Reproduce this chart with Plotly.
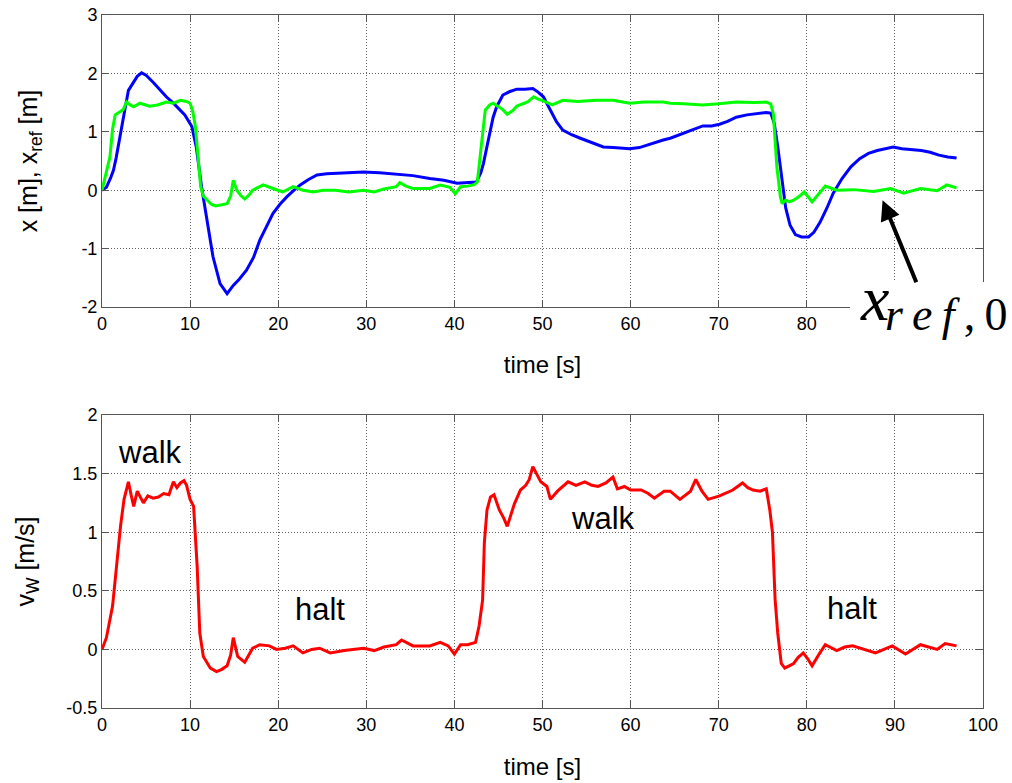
import plotly.graph_objects as go
from plotly.subplots import make_subplots

# ---------------- data ----------------
t_x = [0, 0.5, 1.0, 1.3, 1.6, 2.0, 2.5, 3.0, 3.6, 4.0, 4.5, 5.0, 5.8, 6.6, 7.3, 8.1, 8.8, 9.4, 10.2, 10.7,
       11.3, 11.9, 12.6, 13.4, 14.2, 14.9, 15.6, 16.4, 17.2, 17.9, 18.7, 19.4, 20.2, 21.0, 21.8, 22.5, 23.4,
       24.4, 25.5, 26.6, 28.0, 29.7, 31.5, 33.4, 35.3, 37.2, 38.8, 40.3, 41.5, 42.5, 43.0, 43.3, 43.7, 44.0,
       44.4, 44.8, 45.5, 46.3, 47.1, 48.0, 48.9, 49.5, 50.1, 50.9, 51.6, 52.3, 53.3, 54.3, 55.5, 56.9, 58.0,
       59.0, 59.9, 61.0, 62.0, 63.7, 64.5, 65.5, 66.5, 67.5, 68.2, 69.2, 70.1, 71.0, 72.0, 73.2, 74.3, 75.4,
       75.9, 76.3, 76.7, 77.1, 77.6, 78.1, 78.7, 79.4, 80.2, 80.8, 81.5, 82.3, 83.0, 84.0, 85.0, 86.0, 87.0,
       88.0, 89.0, 89.8, 90.8, 92.0, 93.0, 94.0, 95.0, 96.0, 97.0]
x_pos = [0.0, 0.05, 0.22, 0.34, 0.55, 0.86, 1.3, 1.71, 1.86, 1.95, 2.01, 1.97, 1.85, 1.71, 1.6, 1.49, 1.38,
         1.29, 1.09, 0.74, 0.06, -0.46, -1.14, -1.6, -1.77, -1.63, -1.52, -1.37, -1.15, -0.86, -0.6, -0.4,
         -0.24, -0.11, 0.0, 0.09, 0.18, 0.26, 0.28, 0.29, 0.3, 0.31, 0.3, 0.27, 0.25, 0.2, 0.17, 0.12, 0.13,
         0.14, 0.3, 0.46, 0.75, 0.97, 1.25, 1.43, 1.63, 1.69, 1.73, 1.73, 1.74, 1.68, 1.6, 1.37, 1.17, 1.03,
         0.95, 0.89, 0.82, 0.74, 0.73, 0.72, 0.71, 0.73, 0.78, 0.86, 0.89, 0.95, 1.0, 1.06, 1.1, 1.1, 1.13,
         1.18, 1.25, 1.29, 1.31, 1.33, 1.32, 1.15, 0.75, 0.25, -0.3, -0.6, -0.76, -0.8, -0.8, -0.72, -0.55,
         -0.3, -0.05, 0.2, 0.4, 0.54, 0.63, 0.68, 0.71, 0.74, 0.71, 0.69, 0.68, 0.65, 0.6, 0.57, 0.55]

t_ref = [0, 0.4, 0.9, 1.2, 1.5, 2.0, 2.4, 2.8, 3.2, 3.6, 4.3, 5.4, 6.3, 7.3, 8.1, 8.9, 9.6, 10.0, 10.3, 10.6,
         10.9, 11.2, 11.5, 11.9, 12.4, 12.9, 13.6, 14.2, 14.6, 14.9, 15.3, 15.8, 16.2, 16.7, 17.1, 18.3, 19.4,
         20.5, 21.7, 22.8, 24.0, 25.1, 26.5, 28.0, 29.7, 30.9, 32.0, 33.4, 33.8, 34.5, 35.3, 37.2, 38.4, 39.5,
         40.1, 40.7, 41.5, 42.2, 42.6, 43.1, 43.5, 44.0, 44.4, 45.0, 45.5, 46.0, 46.6, 47.1, 47.7, 48.3, 49.0,
         49.5, 50.1, 51.1, 52.3, 54.0, 56.1, 58.0, 59.9, 61.5, 63.7, 64.5, 66.0, 68.2, 70.0, 72.0, 74.0, 75.4,
         75.9, 76.2, 76.6, 77.0, 77.2, 77.6, 78.0, 78.5, 79.2, 79.7, 80.2, 80.6, 81.2, 82.1, 83.4, 85.3, 87.6,
         89.5, 91.0, 92.9, 94.8, 95.9, 97.0]
x_ref = [0.0, 0.25, 0.57, 1.05, 1.29, 1.34, 1.38, 1.51, 1.46, 1.43, 1.49, 1.44, 1.46, 1.51, 1.49, 1.54, 1.52,
         1.49, 1.35, 1.09, 0.51, 0.06, -0.1, -0.17, -0.24, -0.27, -0.25, -0.23, -0.1, 0.17, 0.0, -0.1, -0.15,
         -0.08, 0.0, 0.09, 0.03, -0.03, 0.06, 0.0, -0.03, 0.0, 0.0, -0.03, 0.0, -0.03, 0.02, 0.06, 0.13, 0.07,
         0.03, 0.03, 0.09, 0.05, -0.06, 0.06, 0.07, 0.09, 0.14, 0.8, 1.37, 1.46, 1.49, 1.43, 1.38, 1.3, 1.36,
         1.44, 1.47, 1.51, 1.6, 1.56, 1.53, 1.46, 1.54, 1.52, 1.54, 1.54, 1.49, 1.51, 1.51, 1.49, 1.48, 1.46,
         1.48, 1.51, 1.5, 1.51, 1.48, 1.31, 0.4, -0.11, -0.23, -0.17, -0.2, -0.17, -0.1, -0.03, -0.12, -0.2,
         -0.09, 0.07, 0.0, 0.01, -0.02, 0.03, -0.05, 0.03, -0.01, 0.09, 0.04]

t_v = [0, 0.5, 1.2, 1.7, 2.1, 2.5, 3.0, 3.3, 3.6, 4.0, 4.7, 5.2, 5.8, 6.4, 7.0, 7.6, 8.1, 8.5, 8.9, 9.3, 9.6,
       10.0, 10.4, 10.8, 11.1, 11.5, 12.3, 13.0, 13.6, 14.2, 14.6, 14.9, 15.4, 16.2, 17.1, 17.9, 19.0, 19.8,
       20.8, 21.7, 22.8, 23.8, 24.7, 25.9, 27.5, 29.7, 30.9, 32.0, 33.4, 34.0, 35.3, 37.2, 38.4, 39.3, 40.0,
       40.7, 41.5, 42.4, 42.8, 43.2, 43.4, 43.7, 44.1, 44.5, 45.1, 45.6, 46.0, 46.8, 47.5, 48.1, 48.5, 48.9,
       49.3, 49.8, 50.5, 50.9, 51.7, 52.9, 53.8, 54.8, 55.6, 56.3, 57.2, 58.0, 58.5, 59.3, 60.0, 61.2, 62.0,
       62.7, 63.8, 64.5, 65.6, 66.8, 67.4, 68.1, 68.8, 70.1, 71.6, 72.7, 73.3, 73.9, 74.7, 75.4, 75.8, 76.1,
       76.4, 76.7, 77.1, 77.5, 78.0, 78.5, 79.0, 79.6, 80.1, 80.6, 81.4, 82.1, 83.4, 84.3, 85.2, 86.5, 87.8,
       89.7, 91.2, 92.9, 94.8, 95.7, 97.0]
v_w = [0.0, 0.1, 0.37, 0.75, 1.05, 1.28, 1.43, 1.32, 1.22, 1.35, 1.25, 1.31, 1.29, 1.3, 1.33, 1.32, 1.43,
       1.38, 1.42, 1.44, 1.4, 1.28, 1.22, 0.71, 0.14, -0.06, -0.16, -0.19, -0.17, -0.14, -0.05, 0.1, -0.06,
       -0.11, 0.01, 0.04, 0.03, 0.0, 0.01, 0.03, -0.03, 0.0, 0.01, -0.03, -0.01, 0.01, -0.01, 0.02, 0.04,
       0.08, 0.03, 0.03, 0.06, 0.03, -0.04, 0.04, 0.04, 0.06, 0.2, 0.42, 0.91, 1.19, 1.3, 1.32, 1.19, 1.12,
       1.05, 1.24, 1.36, 1.4, 1.45, 1.56, 1.5, 1.43, 1.39, 1.28, 1.35, 1.43, 1.4, 1.43, 1.4, 1.39, 1.42, 1.47,
       1.37, 1.39, 1.36, 1.36, 1.33, 1.29, 1.35, 1.35, 1.28, 1.35, 1.45, 1.35, 1.28, 1.31, 1.36, 1.42, 1.38,
       1.36, 1.35, 1.37, 1.19, 1.0, 0.43, 0.14, -0.12, -0.16, -0.14, -0.12, -0.07, -0.03, -0.08, -0.14,
       -0.04, 0.04, -0.01, 0.02, 0.03, 0.0, -0.03, 0.03, -0.04, 0.04, 0.0, 0.05, 0.03]

x_ticks = [0, 10, 20, 30, 40, 50, 60, 70, 80, 90, 100]
top_y_ticks = [-2, -1, 0, 1, 2, 3]
top_y_text = ["-2", "-1", "0", "1", "2", "3"]
bot_y_ticks = [-0.5, 0, 0.5, 1, 1.5, 2]
bot_y_text = ["-0.5", "0", "0.5", "1", "1.5", "2"]

phase_labels = ["walk", "halt", "walk", "halt"]
phase_t = [5.4, 24.7, 56.9, 85.1]
phase_v = [1.68, 0.34, 1.12, 0.35]

# ---------------- figure ----------------
fig = make_subplots(rows=2, cols=1, vertical_spacing=0.0)
fig.add_trace(go.Scatter(x=t_x, y=x_pos, mode="lines", line=dict(color="#0000FF", width=3),
                         showlegend=False), row=1, col=1)
fig.add_trace(go.Scatter(x=t_ref, y=x_ref, mode="lines", line=dict(color="#00FF00", width=3),
                         showlegend=False), row=1, col=1)
fig.add_trace(go.Scatter(x=t_v, y=v_w, mode="lines", line=dict(color="#FF0000", width=3),
                         showlegend=False), row=2, col=1)

font = "Liberation Sans, Arial, sans-serif"
axis_common = dict(showline=True, linecolor="#555555", linewidth=1, mirror="ticks",
                   ticks="inside", ticklen=7, tickcolor="#555555", automargin=False,
                   showgrid=True, gridcolor="#666666", gridwidth=1, griddash="1px,2px",
                   zeroline=False, tickfont=dict(family=font, size=18, color="black"))

fig.update_xaxes(**axis_common, range=[0, 100], tickvals=x_ticks)
fig.update_xaxes(title=dict(text="time [s]", font=dict(family=font, size=24, color="black"), standoff=23),
                 row=1, col=1)
fig.update_xaxes(title=dict(text="time [s]", font=dict(family=font, size=24, color="black"), standoff=24),
                 row=2, col=1)
fig.update_yaxes(**axis_common)
fig.update_yaxes(domain=[0.5786, 1.0], range=[-2, 3], tickvals=top_y_ticks, ticktext=top_y_text,
                 title=dict(text="x [m], x<sub>ref</sub> [m]", font=dict(family=font, size=25, color="black"),
                            standoff=36), row=1, col=1)
fig.update_yaxes(domain=[0.0, 0.4228], range=[-0.5, 2], tickvals=bot_y_ticks, ticktext=bot_y_text,
                 title=dict(text="v<sub>W</sub> [m/s]", font=dict(family=font, size=25, color="black"),
                            standoff=24), row=2, col=1)

for lab, tt, vv in zip(phase_labels, phase_t, phase_v):
    fig.add_annotation(x=tt, y=vv, xref="x2", yref="y2", text=lab, showarrow=False,
                       font=dict(family=font, size=31, color="black"))

# white box that hides the lower-right corner of the upper plot
fig.add_shape(type="rect", xref="paper", yref="paper", x0=0.849, x1=1.04, y0=0.522, y1=0.6147,
              fillcolor="white", line=dict(width=0), layer="above")

# arrow pointing to x_ref,0
fig.add_annotation(x=88.6, y=-0.17, xref="x", yref="y", ax=92.5, ay=-1.6, axref="x", ayref="y",
                   text="", showarrow=True, arrowhead=2, arrowsize=1.0, arrowwidth=4, arrowcolor="black")
# label x_ref,0
serif = "Liberation Serif, Times New Roman, serif"
fig.add_annotation(x=0.8763, y=0.591, xref="paper", yref="paper", text="<i>x</i>", showarrow=False,
                   xanchor="center", yanchor="middle", font=dict(family=serif, size=64, color="black"))
fig.add_annotation(x=0.958, y=0.5680, xref="paper", yref="paper",
                   text="<i>r\u2009e\u2009f</i>\u2009,\u20090", showarrow=False,
                   xanchor="center", yanchor="middle", font=dict(family=serif, size=46, color="black"))

fig.update_layout(width=1012, height=783, margin=dict(l=102, r=29, t=15, b=75, autoexpand=False),
                  paper_bgcolor="white", plot_bgcolor="white", showlegend=False)

fig.write_html("out.html")
